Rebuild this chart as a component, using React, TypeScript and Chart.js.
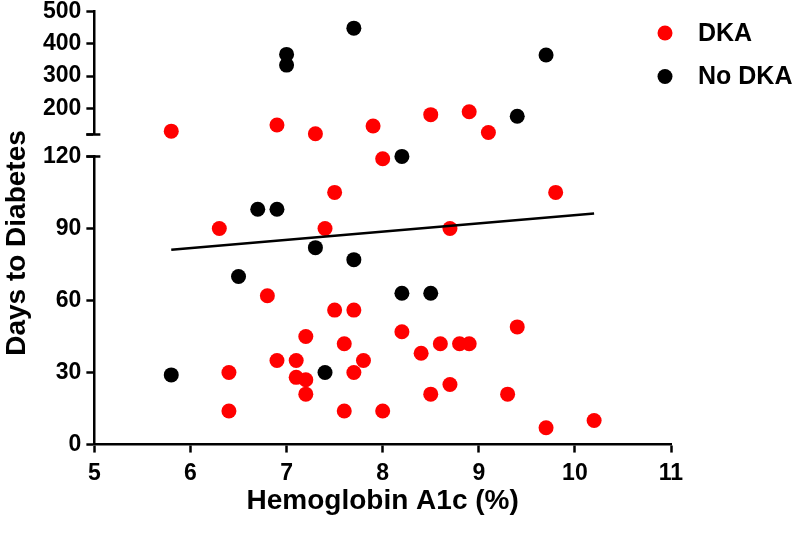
import React, { useEffect, useRef } from "react";
import { Chart, registerables } from "chart.js";

Chart.register(...registerables);

// ---- data ----
const seriesNames = ["DKA", "No DKA"];
const seriesColors = ["#ff0000", "#000000"];

const dkaA1c = [
  5.8, 6.9, 7.3, 7.9, 8.5, 8.9, 9.1,
  8.0, 7.5, 9.8, 6.3, 7.4, 8.7, 6.8, 7.5, 7.7, 7.2, 7.6, 8.2, 9.4,
  6.9, 7.1, 7.8, 8.4, 8.6, 8.8, 8.9, 6.4, 7.7, 7.1, 7.2, 7.2, 8.7,
  8.5, 9.3, 6.4, 7.6, 8.0, 9.7, 10.2,
];
const dkaDays = [
  130, 149, 122, 146, 181, 190, 126,
  119, 105, 105, 90, 90, 90, 62, 56, 56, 45, 42, 47, 49,
  35, 35, 35, 38, 42, 42, 42, 30, 30, 28, 27, 21, 25,
  21, 21, 14, 14, 14, 7, 10,
];
const noDkaA1c = [7.7, 7.0, 7.0, 9.7, 9.4, 8.2, 6.7, 6.9, 7.3, 7.7, 6.5, 8.2, 8.5, 5.8, 7.4];
const noDkaDays = [448, 367, 334, 365, 176, 120, 98, 98, 82, 77, 70, 63, 63, 29, 30];

const trendA1c = [5.8, 10.2];
const trendDays = [81.1, 96.2];

const xTicks = [5, 6, 7, 8, 9, 10, 11];
const lowerTicks = [0, 30, 60, 90, 120];
const upperTicks = [120, 200, 300, 400, 500];
const BREAK_VALUE = 120;
const UPPER_MAX = 500;

const xTitle = "Hemoglobin A1c (%)";
const yTitle = "Days to Diabetes";

const FONT = 'Arial, "Liberation Sans", Helvetica, sans-serif';

function toPoints(xs: number[], ys: number[], high: boolean) {
  return xs
    .map((x, i) => ({ x, y: ys[i] }))
    .filter((p) => (high ? p.y > BREAK_VALUE : p.y <= BREAK_VALUE));
}

const breakPlugin = {
  id: "axisBreak",
  afterDraw(chart: any) {
    const ctx = chart.ctx;
    const top = chart.scales.yTop;
    const low = chart.scales.y;
    const x0 = chart.chartArea.left;
    ctx.save();
    ctx.strokeStyle = "#000";
    ctx.lineWidth = 2.5;
    ctx.beginPath();
    ctx.moveTo(x0 - 8, top.bottom);
    ctx.lineTo(x0 + 6, top.bottom);
    ctx.moveTo(x0 - 8, low.top);
    ctx.lineTo(x0 + 6, low.top);
    ctx.stroke();
    ctx.restore();
  },
};

const yTitlePlugin = {
  id: "yTitle",
  afterDraw(chart: any) {
    const ctx = chart.ctx;
    ctx.save();
    ctx.translate(17, 243);
    ctx.rotate(-Math.PI / 2);
    ctx.fillStyle = "#000";
    ctx.font = `bold 28px ${FONT}`;
    ctx.textAlign = "center";
    ctx.textBaseline = "middle";
    ctx.fillText(yTitle, 0, 0);
    ctx.restore();
  },
};

const legendPlugin = {
  id: "sideLegend",
  afterDraw(chart: any) {
    const ctx = chart.ctx;
    ctx.save();
    ctx.font = `bold 25px ${FONT}`;
    ctx.textAlign = "left";
    ctx.textBaseline = "middle";
    seriesNames.forEach((name, i) => {
      const cy = 33 + i * 43.5;
      ctx.fillStyle = seriesColors[i];
      ctx.beginPath();
      ctx.arc(665, cy, 7.5, 0, Math.PI * 2);
      ctx.fill();
      ctx.fillStyle = "#000";
      ctx.fillText(name, 698, cy + 1);
    });
    ctx.restore();
  },
};

export default function App() {
  const ref = useRef<HTMLCanvasElement | null>(null);

  useEffect(() => {
    document.body.style.margin = "0";
    if (!ref.current) return;

    const pointDs = (label: string, color: string, data: any[], axis: string) => ({
      type: "scatter" as const,
      label,
      data,
      yAxisID: axis,
      backgroundColor: color,
      borderColor: color,
      pointRadius: 7.5,
      pointBorderWidth: 0,
      clip: false as any,
    });

    const axisBorder = { color: "#000", width: 2.5 };
    const axisGrid = { drawOnChartArea: false, drawTicks: true, tickLength: 8, tickWidth: 2.5, tickColor: "#000" };
    const yTickFont = { family: FONT, size: 23, weight: "bold" as const, lineHeight: 0.55 };

    const chart = new Chart(ref.current, {
      type: "scatter",
      data: {
        datasets: [
          {
            type: "line",
            label: "trend",
            data: trendA1c.map((x, i) => ({ x, y: trendDays[i] })),
            yAxisID: "y",
            borderColor: "#000",
            borderWidth: 2.5,
            pointRadius: 0,
            fill: false,
          } as any,
          pointDs(seriesNames[0], seriesColors[0], toPoints(dkaA1c, dkaDays, false), "y"),
          pointDs(seriesNames[0], seriesColors[0], toPoints(dkaA1c, dkaDays, true), "yTop"),
          pointDs(seriesNames[1], seriesColors[1], toPoints(noDkaA1c, noDkaDays, false), "y"),
          pointDs(seriesNames[1], seriesColors[1], toPoints(noDkaA1c, noDkaDays, true), "yTop"),
        ],
      },
      options: {
        animation: false,
        responsive: false,
        devicePixelRatio: 1,
        layout: { padding: { left: 38, right: 129, top: 0, bottom: 33 } },
        plugins: { legend: { display: false }, tooltip: { enabled: false } },
        scales: {
          x: {
            type: "linear",
            min: xTicks[0],
            max: xTicks[xTicks.length - 1],
            afterBuildTicks: (s: any) => {
              s.ticks = xTicks.map((v) => ({ value: v }));
            },
            border: axisBorder,
            grid: axisGrid,
            ticks: { color: "#000", autoSkip: false, padding: 7, font: { family: FONT, size: 23, weight: "bold" } },
            title: {
              display: true,
              text: xTitle,
              color: "#000",
              font: { family: FONT, size: 28, weight: "bold", lineHeight: 0.53 },
              padding: { top: 0, bottom: 0 },
            },
          },
          y: {
            type: "linear",
            position: "left",
            stack: "left",
            stackWeight: 288,
            weight: 1,
            min: lowerTicks[0],
            max: BREAK_VALUE,
            afterBuildTicks: (s: any) => {
              s.ticks = lowerTicks.map((v) => ({ value: v }));
            },
            border: axisBorder,
            grid: axisGrid,
            ticks: { color: "#000", autoSkip: false, padding: 5, font: yTickFont },
          },
          yGap: {
            type: "linear",
            position: "left",
            stack: "left",
            stackWeight: 22,
            weight: 2,
            min: 0,
            max: 1,
            display: false,
          },
          yTop: {
            type: "linear",
            position: "left",
            stack: "left",
            stackWeight: 123,
            weight: 3,
            min: BREAK_VALUE,
            max: UPPER_MAX,
            afterBuildTicks: (s: any) => {
              s.ticks = upperTicks.map((v) => ({ value: v }));
            },
            border: axisBorder,
            grid: axisGrid,
            ticks: {
              color: "#000",
              autoSkip: false,
              padding: 5,
              font: yTickFont,
              callback: (v: any) => (v === BREAK_VALUE ? "" : String(v)),
            },
          },
        } as any,
      },
      plugins: [breakPlugin, yTitlePlugin, legendPlugin],
    });

    return () => chart.destroy();
  }, []);

  return (
    <div style={{ width: 800, height: 542 }}>
      <canvas ref={ref} width={800} height={542} style={{ display: "block" }} />
    </div>
  );
}
